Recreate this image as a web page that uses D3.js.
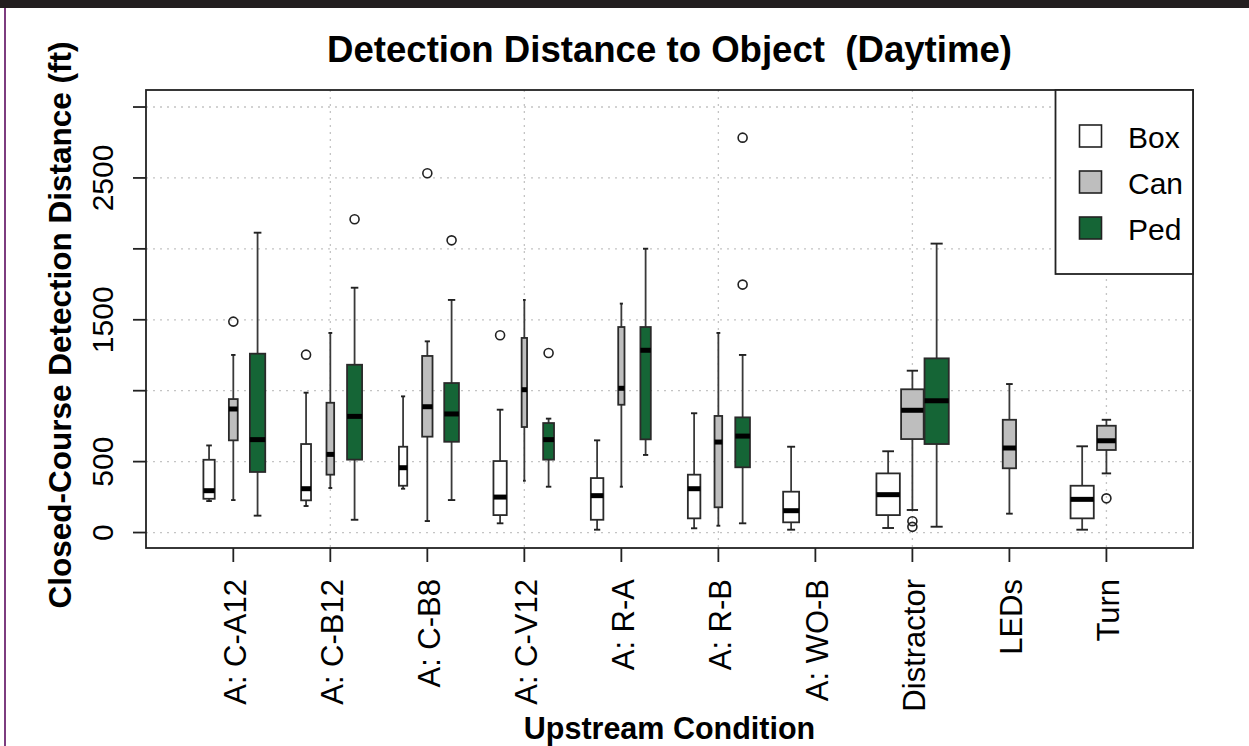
<!DOCTYPE html>
<html>
<head>
<meta charset="utf-8">
<script src="https://cdn.jsdelivr.net/npm/d3@7"></script>
<style>
  body { margin: 0; background: #fff; }
  text { font-family: "Liberation Sans", Arial, sans-serif; }
</style>
</head>
<body>
<div id="chart"></div>
<script>
// categories and series
const conditions = ["A: C-A12", "A: C-B12", "A: C-B8", "A: C-V12", "A: R-A", "A: R-B", "A: WO-B", "Distractor", "LEDs", "Turn"];
const seriesNames = ["Box", "Can", "Ped"];

// [lower whisker, Q1, median, Q3, upper whisker] per condition, null = not tested
const boxStats = [
  [222, 238, 295, 513, 614], [187, 227, 309, 624, 986], [309, 330, 457, 605, 960],
  [65, 123, 250, 504, 866], [20, 90, 260, 384, 650], [30, 100, 309, 408, 841],
  [20, 72, 154, 288, 605], [32, 123, 267, 417, 573], null, [20, 100, 234, 330, 608]
];
const canStats = [
  [229, 650, 871, 941, 1252], [314, 408, 551, 915, 1407], [81, 676, 887, 1245, 1348],
  [365, 744, 1007, 1372, 1640], [323, 901, 1017, 1449, 1614], [48, 178, 638, 822, 1407],
  null, [159, 659, 862, 1010, 1141], [133, 453, 596, 795, 1047], [417, 582, 647, 753, 795]
];
const pedStats = [
  [119, 427, 655, 1261, 2114], [90, 514, 819, 1183, 1726], [229, 640, 836, 1054, 1640],
  [323, 514, 655, 772, 803], [547, 657, 1285, 1449, 2001], [65, 460, 680, 812, 1252],
  null, [41, 624, 929, 1228, 2037], null, null
];

// outliers
const boxOut = [[], [1254], [], [1391], [], [], [], [], [], []];
const canOut = [[1487], [], [2533], [], [], [], [], [80, 40], [], [241]];
const pedOut = [[], [2209], [2060], [1266], [], [1748, 2784], [], [], [], []];

// sample sizes (box width ~ sqrt(n))
const boxN = [13, 10, 7, 18, 16, 16, 26, 56, 0, 55];
const canN = [8, 6, 11, 3, 4, 6, 0, 52, 18, 36];
const pedN = [24, 23, 22, 12, 11, 22, 0, 60, 0, 0];

// axis ticks
const yTicks = [0, 500, 1000, 1500, 2000, 2500, 3000];
const yLabels = [0, 500, 1500, 2500];

const fills = ["#ffffff", "#bebebe", "#156536"];

const W = 1249, H = 746;
const pLeft = 146, pRight = 1193, pTop = 90, pBottom = 548;

const svg = d3.select("#chart").append("svg")
    .attr("width", W)
    .attr("height", H);

svg.append("rect").attr("width", W).attr("height", H).attr("fill", "#fff");

// page decoration
svg.append("rect").attr("x", 0).attr("y", 0).attr("width", W).attr("height", 8).attr("fill", "#231f20");
svg.append("rect").attr("x", 4).attr("y", 8).attr("width", 2).attr("height", H - 8).attr("fill", "#7d3c7f");

// slot position: group i, series j -> 4*i + j + 1
const x = d3.scaleLinear().domain([-1.6, 41.57]).range([pLeft, pRight]);
const y = d3.scaleLinear().domain([-109, 3120]).range([pBottom, pTop]);
const halfW = d3.scaleSqrt().domain([0, 60]).range([0, 0.5]);

const centers = conditions.map((c, i) => 4 * i + 2);

// grid
const grid = svg.append("g");
grid.selectAll(".hg").data(yTicks).join("line")
    .attr("x1", pLeft).attr("x2", pRight)
    .attr("y1", d => y(d)).attr("y2", d => y(d))
    .attr("stroke", "#c4c4c4").attr("stroke-width", 1.3)
    .attr("stroke-dasharray", "2,5");
grid.selectAll(".vg").data(centers.filter((d, i) => i % 2 === 1)).join("line")
    .attr("x1", d => x(d)).attr("x2", d => x(d))
    .attr("y1", pTop).attr("y2", pBottom)
    .attr("stroke", "#c4c4c4").attr("stroke-width", 1.3)
    .attr("stroke-dasharray", "2,5");

// build box list
const allStats = [boxStats, canStats, pedStats];
const allOut = [boxOut, canOut, pedOut];
const allN = [boxN, canN, pedN];
let boxes = [];
conditions.forEach(function(c, i) {
    seriesNames.forEach(function(s, j) {
        const st = allStats[j][i];
        if (!st) return;
        boxes.push({pos: 4 * i + j + 1, stats: st, out: allOut[j][i], n: allN[j][i], fill: fills[j]});
    });
});

const bg = svg.append("g");
boxes.forEach(function(b) {
    const hw = halfW(b.n);
    const x0 = x(b.pos - hw), x1 = x(b.pos + hw), xc = x(b.pos);
    const cap = (x1 - x0) / 4;
    const g = bg.append("g");
    // whiskers
    g.append("line").attr("x1", xc).attr("x2", xc).attr("y1", y(b.stats[0])).attr("y2", y(b.stats[1]))
        .attr("stroke", "#3a3a3a").attr("stroke-width", 1.8);
    g.append("line").attr("x1", xc).attr("x2", xc).attr("y1", y(b.stats[3])).attr("y2", y(b.stats[4]))
        .attr("stroke", "#3a3a3a").attr("stroke-width", 1.8);
    g.append("line").attr("x1", xc - cap).attr("x2", xc + cap).attr("y1", y(b.stats[0])).attr("y2", y(b.stats[0]))
        .attr("stroke", "#222").attr("stroke-width", 1.9);
    g.append("line").attr("x1", xc - cap).attr("x2", xc + cap).attr("y1", y(b.stats[4])).attr("y2", y(b.stats[4]))
        .attr("stroke", "#222").attr("stroke-width", 1.9);
    // box
    g.append("rect").attr("x", x0).attr("y", y(b.stats[3]))
        .attr("width", x1 - x0).attr("height", y(b.stats[1]) - y(b.stats[3]))
        .attr("fill", b.fill).attr("stroke", "#2a2a2a").attr("stroke-width", 1.8);
    // median
    g.append("line").attr("x1", x0).attr("x2", x1).attr("y1", y(b.stats[2])).attr("y2", y(b.stats[2]))
        .attr("stroke", "#000").attr("stroke-width", 5);
    // outliers
    g.selectAll("circle").data(b.out).join("circle")
        .attr("cx", xc).attr("cy", d => y(d)).attr("r", 4.5)
        .attr("fill", "none").attr("stroke", "#222").attr("stroke-width", 1.6);
});

// frame
svg.append("rect").attr("x", pLeft).attr("y", pTop)
    .attr("width", pRight - pLeft).attr("height", pBottom - pTop)
    .attr("fill", "none").attr("stroke", "#222").attr("stroke-width", 1.8);

// y axis
svg.selectAll(".yt").data(yTicks).join("line")
    .attr("x1", pLeft - 13).attr("x2", pLeft)
    .attr("y1", d => y(d)).attr("y2", d => y(d))
    .attr("stroke", "#222").attr("stroke-width", 1.8);
svg.selectAll(".yl").data(yLabels).join("text")
    .attr("transform", d => "translate(113," + y(d) + ") rotate(-90)")
    .attr("text-anchor", "middle")
    .attr("font-size", 30)
    .text(d => d);

// x axis
svg.selectAll(".xt").data(centers).join("line")
    .attr("x1", d => x(d)).attr("x2", d => x(d))
    .attr("y1", pBottom).attr("y2", pBottom + 14)
    .attr("stroke", "#222").attr("stroke-width", 1.8);
svg.selectAll(".xl").data(conditions).join("text")
    .attr("transform", (d, i) => "translate(" + (x(centers[i]) + 1.5) + ",579) rotate(-90)")
    .attr("text-anchor", "end")
    .attr("dy", "0.36em")
    .attr("font-size", 31)
    .text(d => d);

// titles
svg.append("text")
    .attr("x", (pLeft + pRight) / 2).attr("y", 62)
    .attr("text-anchor", "middle")
    .attr("font-size", 36.6).attr("font-weight", "bold")
    .style("white-space", "pre")
    .text("Detection Distance to Object  (Daytime)");
svg.append("text")
    .attr("x", (pLeft + pRight) / 2).attr("y", 739)
    .attr("text-anchor", "middle")
    .attr("font-size", 30.5).attr("font-weight", "bold")
    .text("Upstream Condition");
svg.append("text")
    .attr("transform", "translate(71,325) rotate(-90)")
    .attr("text-anchor", "middle")
    .attr("font-size", 31.5).attr("font-weight", "bold")
    .text("Closed-Course Detection Distance (ft)");

// legend
const lg = svg.append("g");
lg.append("rect").attr("x", 1055.5).attr("y", pTop)
    .attr("width", pRight - 1055.5).attr("height", 184)
    .attr("fill", "#fff").attr("stroke", "#222").attr("stroke-width", 1.8);
seriesNames.forEach(function(s, j) {
    const cy = 136 + j * 46;
    lg.append("rect").attr("x", 1079.5).attr("y", cy - 11)
        .attr("width", 22).attr("height", 22)
        .attr("fill", fills[j]).attr("stroke", "#222").attr("stroke-width", 1.6);
    lg.append("text").attr("x", 1128).attr("y", cy + 12)
        .attr("font-size", 30)
        .text(s);
});
</script>
</body>
</html>
